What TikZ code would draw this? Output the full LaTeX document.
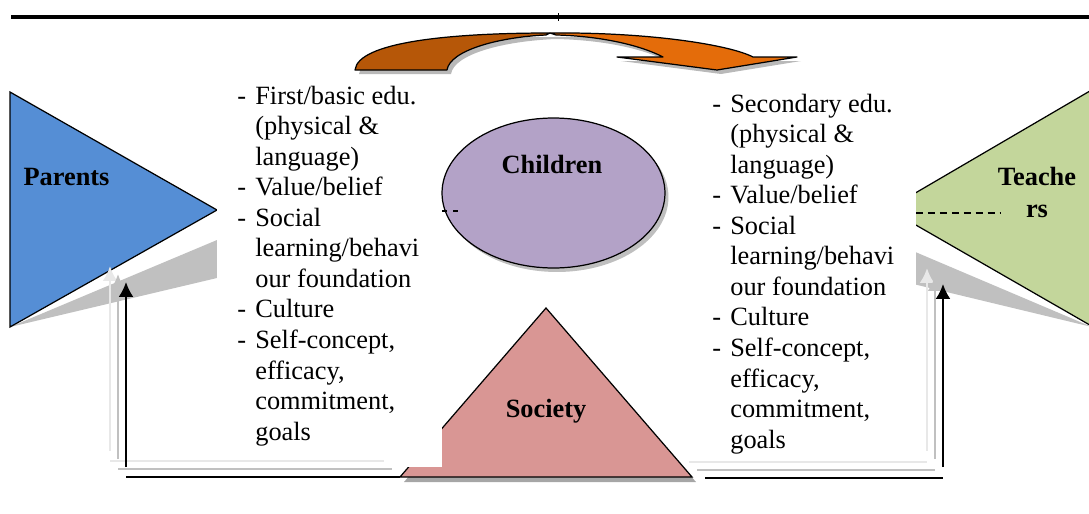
\documentclass[tikz,border=0pt]{standalone}
\usepackage{fontspec}
\setmainfont{Liberation Serif}
\usetikzlibrary{shapes.geometric,calc,arrows.meta}
\definecolor{parentblue}{HTML}{558ED5}
\definecolor{teachgreen}{HTML}{C3D69B}
\definecolor{kidpurple}{HTML}{B3A2C7}
\definecolor{socpink}{HTML}{D99694}
\definecolor{arrowdark}{HTML}{B65708}
\definecolor{arrowlight}{HTML}{E46C0A}
\definecolor{glowmid}{HTML}{C0C0C0}
\definecolor{glowlight}{HTML}{E8E8E8}
\tikzset{
  lbl/.style={font=\fontsize{15}{18}\selectfont\bfseries, inner sep=0pt, anchor=base},
  lst/.style={font=\fontsize{15}{17.4}\selectfont, inner sep=0pt, anchor=base west},
  upline/.style={line width=1.2pt, -{Latex[length=8.5pt,width=8.5pt]}},
}
\newcommand{\dsh}{\makebox[0.36cm][l]{-}}

\begin{document}
\begin{tikzpicture}[x=0.02cm,y=-0.02cm]
\useasboundingbox (0,0) rectangle (1089,514);
\clip (0,0) rectangle (1089,514);

\draw[line width=2.2pt] (11,17) -- (1089,17); %%Top rule
\draw[line width=0.4pt] (558,13) -- (558,21);

%%Curved arrow
\fill[gray!55, shift={(4,4)}] (355,70) .. controls (358,42) and (450,33) .. (550,33) .. controls (650,32) and (730,45) .. (753,57) -- (797,57) -- (717,70) -- (617,57) -- (663,57) .. controls (640,45) and (600,36) .. (552,35) .. controls (500,37) and (450,50) .. (447,70) -- cycle;
\draw[fill=arrowdark, line width=0.7pt, line join=round] (355,70) .. controls (358,42) and (450,33) .. (550,33) -- (546,35) .. controls (500,37) and (450,50) .. (447,70) -- cycle;
\draw[fill=arrowlight, line width=0.7pt, line join=round] (550,33) .. controls (650,32) and (730,45) .. (753,57) -- (797,57) -- (717,70) -- (617,57) -- (663,57) .. controls (640,45) and (600,36) .. (556,35) -- cycle;

%%Parents
\fill[glowmid] (10,327) -- (217,240) -- (217,278) -- cycle;
\draw[fill=parentblue, line width=0.7pt] (10,92) -- (217,210) -- (10,327) -- cycle;

%%Teachers
\fill[glowmid] (1092,327) -- (880,237) -- (880,276) -- cycle;
\draw[fill=teachgreen, line width=0.7pt] (888,209) -- (1095,88) -- (1095,328) -- cycle;
\draw[line width=0.6pt, dash pattern=on 4pt off 2.8pt] (916,213) -- (1000,213);

%%Society
\coordinate (socT) at (546,308);
\coordinate (socL) at (400,477);
\coordinate (socR) at (692,477);
\fill[gray!70] ([shift={(4,5)}]socT) -- ([shift={(4,5)}]socL) -- ([shift={(4,5)}]socR) -- cycle;
\draw[fill=socpink, line width=0.7pt] (socT) -- (socL) -- (socR) -- cycle;

%%Text boxes
\fill[white] (217,85) rectangle (442,467);
\fill[white] (697,88) rectangle (916,472);

%%Children
\fill[gray!50] (557,197) ellipse [x radius=2.23cm, y radius=1.5cm];
\node[ellipse, draw, line width=0.7pt, fill=kidpurple, minimum width=4.46cm, minimum height=3cm, inner sep=0pt] (children) at (553.5,193) {};
\draw[line width=0.6pt, dash pattern=on 3pt off 3.5pt] (442,211) -- (458,211);

%%Labels
\node[lbl] (parentslbl) at (66.5,185) {Parents};
\node[lbl] (childlbl) at (552,173) {Children};
\node[lbl] (soclbl) at (546,417) {Society};
\node[lbl] (teachlbl) at (1037,185) {Teache};
\node[lbl] (teachlbl2) at (1037,217) {rs};

%%Lists
\node[lst] (leftlist) at (237,104) {\begin{tabular}[t]{@{}l@{}l@{}}
\dsh & First/basic edu.\\
 & (physical \&\\
 & language)\\
\dsh & Value/belief\\
\dsh & Social\\
 & learning/behavi\\
 & our foundation\\
\dsh & Culture\\
\dsh & Self-concept,\\
 & efficacy,\\
 & commitment,\\
 & goals
\end{tabular}};
\node[lst] (rightlist) at (712,112) {\begin{tabular}[t]{@{}l@{}l@{}}
\dsh & Secondary edu.\\
 & (physical \&\\
 & language)\\
\dsh & Value/belief\\
\dsh & Social\\
 & learning/behavi\\
 & our foundation\\
\dsh & Culture\\
\dsh & Self-concept,\\
 & efficacy,\\
 & commitment,\\
 & goals
\end{tabular}};

%%Feedback lines
\coordinate (lfoot) at (126,467);
\coordinate (ltip) at (126,282);
\coordinate (lbase) at (126,477);
\coordinate (rfoot) at (943,467);
\coordinate (rtip) at (943,284);
\coordinate (rbase) at (943,478);
\coordinate (rstart) at (705,478);
\foreach \o/\c in {16/glowlight,8/glowmid}{
  \draw[upline, line width=1.6pt, \c] ([shift={(-\o,-\o)}]lfoot) -- ([shift={(-\o,-\o)}]ltip);
  \draw[line width=1.6pt, \c] ([shift={(-\o,-\o)}]lbase) -- ([shift={(-\o,-\o)}]socL);
  \draw[upline, line width=1.6pt, \c] ([shift={(-\o,-\o)}]rfoot) -- ([shift={(-\o,-\o)}]rtip);
  \draw[line width=1.6pt, \c] ([shift={(-\o,-\o)}]rstart) -- ([shift={(-\o,-\o)}]rbase);
}
\draw[upline] (lfoot) -- (ltip);
\draw[line width=1.2pt] (lbase) -- (socL);
\draw[upline] (rfoot) -- (rtip);
\draw[line width=1.2pt] (rstart) -- (rbase);

\end{tikzpicture}
\end{document}
